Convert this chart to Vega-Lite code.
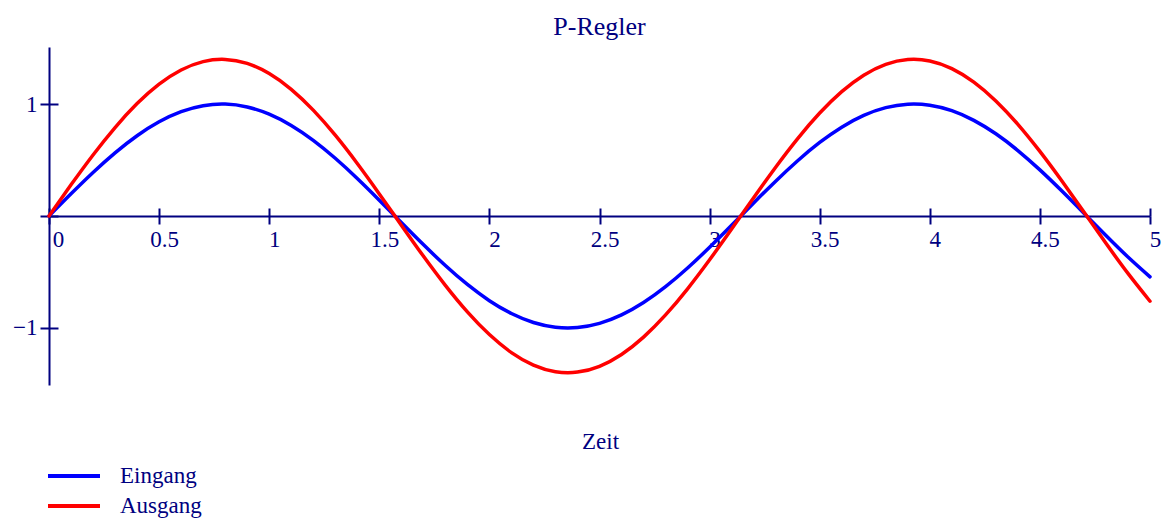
{
  "$schema": "https://vega.github.io/schema/vega-lite/v6.json",
  "width": 1101,
  "height": 338,
  "autosize": "none",
  "padding": {"left": 49, "top": 47, "right": 17, "bottom": 140},
  "background": "white",
  "title": {
    "text": "P-Regler",
    "font": "Liberation Serif",
    "fontSize": 26,
    "fontWeight": "normal",
    "color": "#000080",
    "anchor": "middle",
    "baseline": "alphabetic",
    "offset": -14
  },
  "data": {
    "values": [
      {"t": 0.0, "Eingang": 0.0, "Ausgang": 0.0},
      {"t": 0.1, "Eingang": 0.1987, "Ausgang": 0.2782},
      {"t": 0.2, "Eingang": 0.3894, "Ausgang": 0.5452},
      {"t": 0.3, "Eingang": 0.5646, "Ausgang": 0.7904},
      {"t": 0.4, "Eingang": 0.7174, "Ausgang": 1.0044},
      {"t": 0.5, "Eingang": 0.8415, "Ausgang": 1.1781},
      {"t": 0.6, "Eingang": 0.932, "Ausgang": 1.3048},
      {"t": 0.7, "Eingang": 0.9854, "Ausgang": 1.3796},
      {"t": 0.8, "Eingang": 0.9996, "Ausgang": 1.3994},
      {"t": 0.9, "Eingang": 0.9738, "Ausgang": 1.3633},
      {"t": 1.0, "Eingang": 0.9093, "Ausgang": 1.273},
      {"t": 1.1, "Eingang": 0.8085, "Ausgang": 1.1319},
      {"t": 1.2, "Eingang": 0.6755, "Ausgang": 0.9457},
      {"t": 1.3, "Eingang": 0.5155, "Ausgang": 0.7217},
      {"t": 1.4, "Eingang": 0.335, "Ausgang": 0.469},
      {"t": 1.5, "Eingang": 0.1411, "Ausgang": 0.1975},
      {"t": 1.6, "Eingang": -0.0584, "Ausgang": -0.0818},
      {"t": 1.7, "Eingang": -0.2555, "Ausgang": -0.3577},
      {"t": 1.8, "Eingang": -0.4425, "Ausgang": -0.6195},
      {"t": 1.9, "Eingang": -0.6119, "Ausgang": -0.8567},
      {"t": 2.0, "Eingang": -0.7568, "Ausgang": -1.0595},
      {"t": 2.1, "Eingang": -0.8716, "Ausgang": -1.2202},
      {"t": 2.2, "Eingang": -0.9516, "Ausgang": -1.3322},
      {"t": 2.3, "Eingang": -0.9937, "Ausgang": -1.3912},
      {"t": 2.4, "Eingang": -0.9962, "Ausgang": -1.3947},
      {"t": 2.5, "Eingang": -0.9589, "Ausgang": -1.3425},
      {"t": 2.6, "Eingang": -0.8835, "Ausgang": -1.2369},
      {"t": 2.7, "Eingang": -0.7728, "Ausgang": -1.0819},
      {"t": 2.8, "Eingang": -0.6313, "Ausgang": -0.8838},
      {"t": 2.9, "Eingang": -0.4646, "Ausgang": -0.6504},
      {"t": 3.0, "Eingang": -0.2794, "Ausgang": -0.3912},
      {"t": 3.1, "Eingang": -0.0831, "Ausgang": -0.1163},
      {"t": 3.2, "Eingang": 0.1165, "Ausgang": 0.1631},
      {"t": 3.3, "Eingang": 0.3115, "Ausgang": 0.4361},
      {"t": 3.4, "Eingang": 0.4941, "Ausgang": 0.6917},
      {"t": 3.5, "Eingang": 0.657, "Ausgang": 0.9198},
      {"t": 3.6, "Eingang": 0.7937, "Ausgang": 1.1112},
      {"t": 3.7, "Eingang": 0.8987, "Ausgang": 1.2582},
      {"t": 3.8, "Eingang": 0.9679, "Ausgang": 1.3551},
      {"t": 3.9, "Eingang": 0.9985, "Ausgang": 1.3979},
      {"t": 4.0, "Eingang": 0.9894, "Ausgang": 1.3852},
      {"t": 4.1, "Eingang": 0.9407, "Ausgang": 1.317},
      {"t": 4.2, "Eingang": 0.8546, "Ausgang": 1.1964},
      {"t": 4.3, "Eingang": 0.7344, "Ausgang": 1.0282},
      {"t": 4.4, "Eingang": 0.5849, "Ausgang": 0.8189},
      {"t": 4.5, "Eingang": 0.4121, "Ausgang": 0.5769},
      {"t": 4.6, "Eingang": 0.2229, "Ausgang": 0.3121},
      {"t": 4.7, "Eingang": 0.0248, "Ausgang": 0.0347},
      {"t": 4.8, "Eingang": -0.1743, "Ausgang": -0.244},
      {"t": 4.9, "Eingang": -0.3665, "Ausgang": -0.5131},
      {"t": 5.0, "Eingang": -0.544, "Ausgang": -0.7616}
    ]
  },
  "transform": [
    {"fold": ["Eingang", "Ausgang"], "as": ["Signal", "Wert"]}
  ],
  "layer": [
    {
      "mark": {"type": "line", "interpolate": "natural", "strokeWidth": 3.5, "strokeCap": "round"},
      "encoding": {
        "x": {
          "field": "t",
          "type": "quantitative",
          "scale": {"domain": [0, 5], "nice": false, "zero": false},
          "axis": {
            "orient": "bottom",
            "title": "Zeit",
            "values": [0, 0.5, 1, 1.5, 2, 2.5, 3, 3.5, 4, 4.5, 5],
            "format": "~g",
            "labelExpr": "datum.value === 0 ? '' : datum.label",
            "offset": -169,
            "grid": false,
            "domainColor": "#000080",
            "domainWidth": 2,
            "tickColor": "#000080",
            "tickWidth": 2,
            "tickSize": 8,
            "labelColor": "#000080",
            "labelFont": "Liberation Serif",
            "labelFontSize": 23,
            "labelPadding": 4,
            "labelOffset": 5,
            "labelFlush": false,
            "labelOverlap": false,
            "titleColor": "#000080",
            "titleFont": "Liberation Serif",
            "titleFontSize": 23,
            "titleFontWeight": "normal",
            "titleBaseline": "alphabetic",
            "titleX": 551,
            "titleY": 232
          }
        },
        "y": {
          "field": "Wert",
          "type": "quantitative",
          "scale": {"domain": [-1.51, 1.51], "nice": false, "zero": false},
          "axis": {
            "orient": "left",
            "title": null,
            "values": [-1, 0, 1],
            "grid": false,
            "domainColor": "#000080",
            "domainWidth": 2,
            "tickColor": "#000080",
            "tickWidth": 2,
            "tickSize": 9,
            "labelColor": "#000080",
            "labelFont": "Liberation Serif",
            "labelFontSize": 23,
            "labelPadding": 3,
            "labelExpr": "datum.value === 0 ? '' : datum.label"
          }
        },
        "color": {
          "field": "Signal",
          "type": "nominal",
          "scale": {"domain": ["Eingang", "Ausgang"], "range": ["#0000ff", "#ff0000"]},
          "legend": {
            "title": null,
            "orient": "none",
            "legendX": -3,
            "legendY": 415,
            "padding": 0,
            "symbolType": "stroke",
            "symbolSize": 2704,
            "symbolStrokeWidth": 4,
            "labelFont": "Liberation Serif",
            "labelFontSize": 23,
            "labelColor": "#000080",
            "labelOffset": 18,
            "clipHeight": 28,
            "rowPadding": 2
          }
        }
      }
    },
    {
      "mark": {"type": "point", "opacity": 0},
      "encoding": {
        "x": {
          "field": "t",
          "type": "quantitative",
          "axis": {
            "orient": "bottom",
            "title": null,
            "values": [0, 0.5, 1, 1.5, 2, 2.5, 3, 3.5, 4, 4.5, 5],
            "format": "~g",
            "labelExpr": "datum.value === 0 ? '0' : ''",
            "offset": -169,
            "grid": false,
            "domain": false,
            "tickColor": "#000080",
            "tickWidth": 2,
            "tickSize": -8,
            "labelColor": "#000080",
            "labelFont": "Liberation Serif",
            "labelFontSize": 23,
            "labelPadding": 20,
            "labelOffset": 9,
            "labelFlush": false,
            "labelOverlap": false
          }
        },
        "y": {
          "field": "Wert",
          "type": "quantitative",
          "axis": {
            "orient": "left",
            "title": null,
            "values": [-1, 0, 1],
            "grid": false,
            "domain": false,
            "labels": false,
            "tickColor": "#000080",
            "tickWidth": 2,
            "tickSize": -9
          }
        }
      }
    }
  ],
  "resolve": {"axis": {"x": "independent", "y": "independent"}},
  "config": {
    "view": {"stroke": null}
  }
}
